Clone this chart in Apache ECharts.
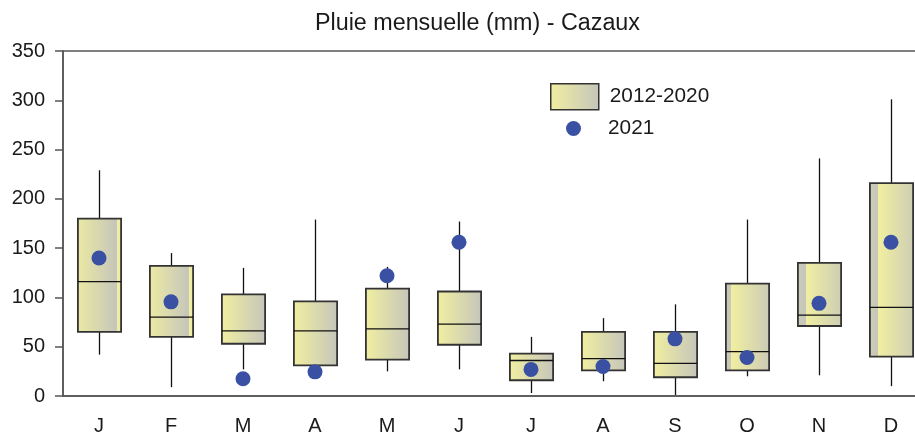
<!DOCTYPE html>
<html>
<head>
<meta charset="utf-8">
<script src="https://cdn.jsdelivr.net/npm/echarts@6/dist/echarts.min.js"></script>
<style>
	html, body { margin: 0; padding: 0; background: #fff; }
	#chart { width: 915px; height: 436px; }
</style>
</head>
<body>
<div id="chart"></div>
<script>
// mois
var months = ["J", "F", "M", "A", "M", "J", "J", "A", "S", "O", "N", "D"];

// 2012-2020 : min, q1, mediane, q3, max (mm)
var rainMin = [42, 9, 27, 25, 25, 27, 3, 15, 1, 20, 21, 10];
var rainQ1 = [65, 60, 53, 31, 37, 52, 16, 26, 19, 26, 71, 40];
var rainMed = [116, 80, 66, 66, 68, 73, 36, 38, 33, 45, 82, 90];
var rainQ3 = [180, 132, 103, 96, 109, 106, 43, 65, 65, 114, 135, 216];
var rainMax = [229, 145, 130, 179, 131, 177, 60, 79, 93, 179, 241, 301];

// 2021
var rain2021 = [140, 95.5, 17.5, 24.5, 122, 156, 27, 30, 58, 39, 94, 156];

var yTicks = [0, 50, 100, 150, 200, 250, 300, 350];

var YELLOW = [241, 239, 160];
var GREY = [197, 197, 187];
// decalage du degrade par boite (artefact du graphique d'origine)
var shadePhase = [0.11, 0.10, 0, 0, 0, 0, 0, 0, 0, 0.86, 0.81, 0.79];

function mix(t) {
	var c = YELLOW.map(function(v, k) {
		return Math.round(v + (GREY[k] - v) * t);
	});
	return 'rgb(' + c.join(',') + ')';
}

function boxFill(s) {
	if (!s) {
		return new echarts.graphic.LinearGradient(0, 0, 1, 0, [
			{ offset: 0, color: mix(0) },
			{ offset: 1, color: mix(1) }
		]);
	}
	return new echarts.graphic.LinearGradient(0, 0, 1, 0, [
		{ offset: 0, color: mix(s) },
		{ offset: 1 - s, color: mix(1) },
		{ offset: 1 - s, color: mix(0) },
		{ offset: 1, color: mix(s) }
	]);
}

var boxData = months.map(function(m, i) {
	return [i, rainMin[i], rainQ1[i], rainMed[i], rainQ3[i], rainMax[i]];
});

var chart = echarts.init(document.getElementById('chart'), null, { renderer: 'canvas' });

var option = {
	animation: false,
	textStyle: { fontFamily: 'Liberation Sans, Arial, sans-serif' },
	title: {
		text: 'Pluie mensuelle (mm) - Cazaux',
		left: 315,
		top: 12,
		padding: 0,
		textStyle: { fontSize: 23.3, fontWeight: 'normal', color: '#1a1a1a' }
	},
	legend: [{
		left: 550,
		top: 83,
		padding: 0,
		itemWidth: 48,
		itemHeight: 26,
		selectedMode: false,
		textStyle: { fontSize: 20.8, color: '#1a1a1a', padding: [0, 0, 0, 6] },
		data: [{
			name: '2012-2020',
			icon: 'rect',
			itemStyle: { color: boxFill(0), borderColor: '#333', borderWidth: 1.5 }
		}]
	}, {
		left: 566,
		top: 118,
		padding: 0,
		itemWidth: 15,
		itemHeight: 15,
		selectedMode: false,
		textStyle: { fontSize: 20.8, color: '#1a1a1a', padding: [0, 0, 0, 22] },
		data: [{ name: '2021', icon: 'circle' }]
	}],
	grid: {
		left: 63,
		top: 51,
		width: 864,
		height: 345,
		outerBoundsMode: 'none',
		show: true,
		borderColor: '#555',
		borderWidth: 1.5,
		backgroundColor: 'transparent'
	},
	xAxis: {
		type: 'category',
		data: months,
		boundaryGap: true,
		axisLine: { lineStyle: { color: '#555', width: 1.5 } },
		axisTick: { alignWithLabel: true, length: 10, lineStyle: { color: '#555', width: 1.5 } },
		axisLabel: { fontSize: 20, color: '#1a1a1a', margin: 20 },
		splitLine: { show: false }
	},
	yAxis: {
		type: 'value',
		min: yTicks[0],
		max: yTicks[yTicks.length - 1],
		interval: 50,
		axisLine: { show: true, lineStyle: { color: '#555', width: 1.5 } },
		axisTick: { show: true, length: 8, lineStyle: { color: '#555', width: 1.5 } },
		axisLabel: { fontSize: 20, color: '#1a1a1a', margin: 18 },
		splitLine: { show: false }
	},
	series: [{
		name: '2012-2020',
		type: 'custom',
		data: boxData,
		encode: { x: 0, y: [1, 2, 3, 4, 5] },
		itemStyle: { color: mix(0.5) },
		renderItem: function(params, api) {
			var i = api.value(0);
			var pMin = api.coord([i, api.value(1)]);
			var pQ1 = api.coord([i, api.value(2)]);
			var pMed = api.coord([i, api.value(3)]);
			var pQ3 = api.coord([i, api.value(4)]);
			var pMax = api.coord([i, api.value(5)]);
			var bw = api.size([1, 0])[0] * 0.6;
			var cx = Math.round(pMin[0]) + 0.5;
			var x0 = cx - bw / 2;
			return {
				type: 'group',
				children: [{
					type: 'line',
					shape: { x1: cx, y1: pMax[1], x2: cx, y2: pQ3[1] },
					style: { stroke: '#111', lineWidth: 1.3 }
				}, {
					type: 'line',
					shape: { x1: cx, y1: pQ1[1], x2: cx, y2: pMin[1] },
					style: { stroke: '#111', lineWidth: 1.3 }
				}, {
					type: 'rect',
					shape: { x: x0, y: pQ3[1], width: bw, height: pQ1[1] - pQ3[1] },
					style: { fill: boxFill(shadePhase[params.dataIndex]), stroke: '#333', lineWidth: 1.8 }
				}, {
					type: 'line',
					shape: { x1: x0, y1: pMed[1], x2: x0 + bw, y2: pMed[1] },
					style: { stroke: '#111', lineWidth: 1.3 }
				}]
			};
		},
		z: 2
	}, {
		name: '2021',
		type: 'scatter',
		data: rain2021,
		symbol: 'circle',
		symbolSize: 15,
		itemStyle: { color: '#3a51a3', opacity: 1 },
		z: 3
	}]
};

chart.setOption(option);
</script>
</body>
</html>
